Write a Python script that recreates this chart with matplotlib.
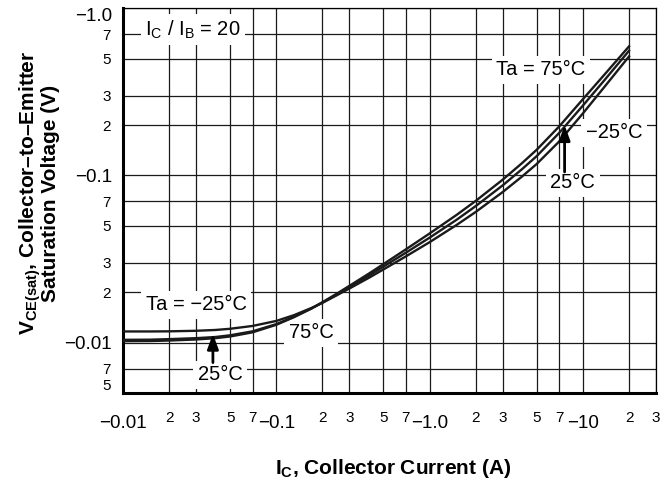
import matplotlib
matplotlib.use('Agg')
import matplotlib.pyplot as plt

plt.rcParams['font.family'] = ['Liberation Sans', 'DejaVu Sans']
plt.rcParams['mathtext.fontset'] = 'custom'
plt.rcParams['mathtext.rm'] = 'Liberation Sans'
plt.rcParams['mathtext.bf'] = 'Liberation Sans:bold'
plt.rcParams['mathtext.it'] = 'Liberation Sans:italic'

# ---- data ----
collector_current = [0.01, 0.015, 0.02, 0.03, 0.04, 0.05, 0.07, 0.1, 0.13, 0.17,
                     0.2, 0.25, 0.3, 0.4, 0.5, 0.7, 1.0, 1.5, 2.0, 3.0,
                     4.0, 5.0, 7.0, 10, 14, 20]
vce_75 = [0.01021, 0.01023, 0.01030, 0.01045, 0.01064, 0.01089, 0.01153, 0.01279, 0.01419, 0.01603,
          0.01746, 0.01972, 0.02188, 0.02582, 0.02951, 0.03614, 0.04498, 0.05808, 0.07047, 0.09441,
          0.1183, 0.1426, 0.1963, 0.2858, 0.4064, 0.5916]
vce_25 = [0.01040, 0.01042, 0.01050, 0.01064, 0.01081, 0.01107, 0.01169, 0.01291, 0.01426, 0.01603,
          0.01738, 0.01950, 0.02148, 0.02512, 0.02851, 0.03451, 0.04246, 0.05433, 0.06561, 0.08730,
          0.1089, 0.1306, 0.1795, 0.2618, 0.3767, 0.5572]
vce_m25 = [0.01167, 0.01167, 0.01169, 0.01178, 0.01191, 0.01211, 0.01259, 0.01349, 0.01459, 0.01614,
           0.01730, 0.01928, 0.02109, 0.02438, 0.02742, 0.03281, 0.03990, 0.05058, 0.06053, 0.07962,
           0.09840, 0.1172, 0.1596, 0.2350, 0.3436, 0.5152]

x_major_ticks = [0.01, 0.1, 1.0, 10]
x_major_labels = ['\u22120.01', '\u22120.1', '\u22121.0', '\u221210']
x_minor_ticks = [0.02, 0.03, 0.05, 0.07, 0.2, 0.3, 0.5, 0.7, 2, 3, 5, 7, 20, 30]
x_minor_labels = ['2', '3', '5', '7', '2', '3', '5', '7', '2', '3', '5', '7', '2', '3']
y_major_ticks = [0.01, 0.1, 1.0]
y_major_labels = ['\u22120.01', '\u22120.1', '\u22121.0']
y_minor_ticks = [0.005, 0.007, 0.02, 0.03, 0.05, 0.07, 0.2, 0.3, 0.5, 0.7]
y_minor_labels = ['5', '7', '2', '3', '5', '7', '2', '3', '5', '7']

# ---- figure ----
W, H = 671, 487
fig = plt.figure(figsize=(W / 100, H / 100), dpi=100)
ax = fig.add_axes([123 / W, 1 - 393 / H, 533 / W, 384.7 / H])
ax.set_xscale('log')
ax.set_yscale('log')
ax.set_xlim(0.01, 30)
ax.set_ylim(0.005, 1.0)

ax.set_xticks(x_major_ticks, x_major_labels)
ax.set_xticks(x_minor_ticks, x_minor_labels, minor=True)
ax.set_yticks(y_major_ticks, y_major_labels)
ax.set_yticks(y_minor_ticks, y_minor_labels, minor=True)

ax.tick_params(which='both', length=0, colors='black')
ax.tick_params(axis='x', which='major', labelsize=13.5, pad=16)
ax.tick_params(axis='x', which='minor', labelsize=11, pad=13)
ax.tick_params(axis='y', which='major', labelsize=13.5, pad=8)
ax.tick_params(axis='y', which='minor', labelsize=11, pad=9)

ax.yaxis.get_major_ticks()[2].label1.set_va('top')
ax.yaxis.get_minor_ticks()[0].label1.set_va('bottom')

ax.set_axisbelow(True)
ax.grid(True, which='both', color='#1a1a1a', lw=0.9)
for s in ['left', 'bottom']:
    ax.spines[s].set_linewidth(2.2)
for s in ['top', 'right']:
    ax.spines[s].set_linewidth(0.9)

# ---- curves ----
for v in (vce_75, vce_25, vce_m25):
    ax.plot(collector_current, v, color='#1a1a1a', lw=1.7, zorder=3,
            solid_joinstyle='round')

# ---- annotations ----
box = dict(boxstyle='square,pad=0.22', fc='white', ec='none')
tkw = dict(transform=ax.transAxes, ha='center', va='center', fontsize=14.5,
           bbox=box, zorder=2)
ax.text(0.131, 0.944, r'I$_\mathregular{C}$ / I$_\mathregular{B}$ = 20', **tkw)
ax.text(0.784, 0.840, 'Ta = 75\u00b0C', **tkw)
ax.text(0.921, 0.676, '\u221225\u00b0C', **tkw)
ax.text(0.844, 0.546, '25\u00b0C', **tkw)
ax.text(0.137, 0.229, 'Ta = \u221225\u00b0C', **tkw)
ax.text(0.353, 0.156, '75\u00b0C', **tkw)
ax.text(0.182, 0.047, '25\u00b0C', **tkw)

akw = dict(arrowstyle='-|>,head_length=0.6,head_width=0.22', lw=2,
           color='black', mutation_scale=15, shrinkA=0, shrinkB=0)
ax.annotate('', xy=(7.6, 0.2), xytext=(7.6, 0.105), arrowprops=akw, zorder=4)
ax.annotate('', xy=(0.0386, 0.0113), xytext=(0.0386, 0.0076), arrowprops=akw, zorder=4)

# ---- axis labels ----
ax.set_xlabel(r'I$_{\mathbf{C}}$, Collector Current (A)', fontsize=15,
              fontweight='bold')
ax.xaxis.set_label_coords(0.507, -0.197)
ax.xaxis.label.set_va('center')
ax.set_ylabel('V$_{\\mathbf{CE(sat)}}$, Collector\u2013to\u2013Emitter\nSaturation Voltage (V)',
              fontsize=15, fontweight='bold', linespacing=0.85)
ax.yaxis.set_label_coords(-0.1585, 0.52)
ax.yaxis.label.set_va('center')

fig.savefig('out.png', dpi=100)
